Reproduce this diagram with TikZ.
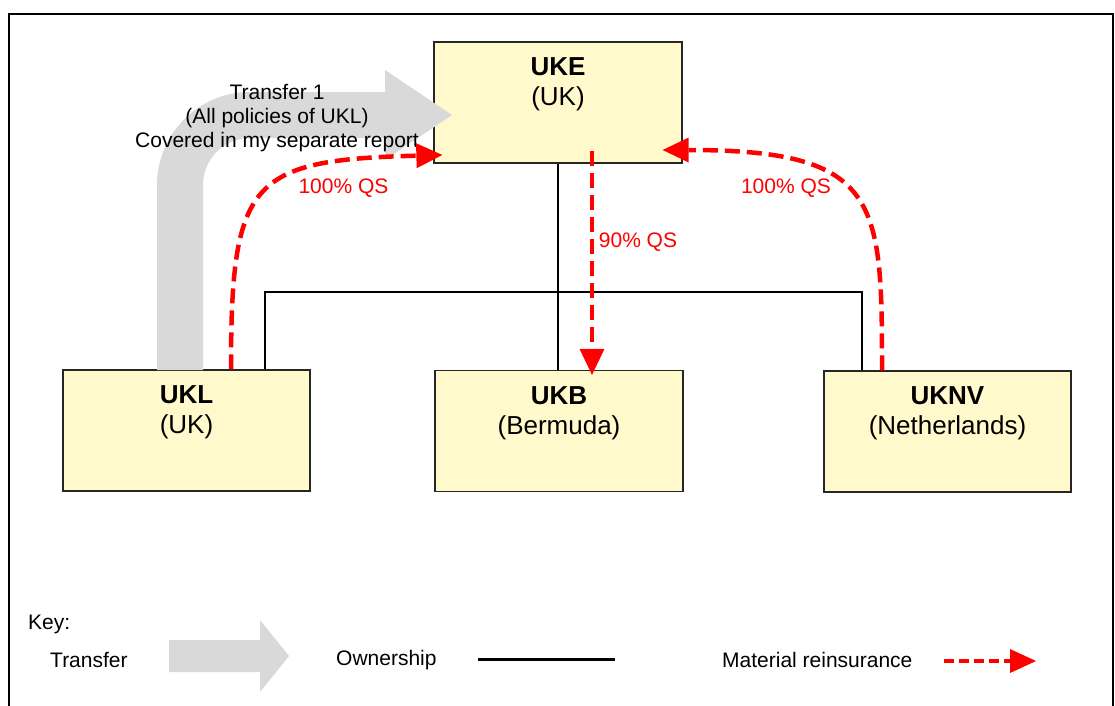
\documentclass[tikz,border=0pt]{standalone}
\usepackage{fontspec}
\setmainfont{Liberation Sans}
\usetikzlibrary{arrows.meta,calc}
\definecolor{boxfill}{RGB}{255,249,204}
\definecolor{transgray}{RGB}{217,217,217}
\definecolor{reinred}{RGB}{255,0,0}
\begin{document}
\begin{tikzpicture}[x=1pt,y=-1pt,
  entity/.style={draw=black!85, line width=1.3pt, fill=boxfill, minimum width=248pt, minimum height=121pt, inner sep=0pt},
  entitytext/.style={align=center, font=\fontsize{26}{30}\selectfont, inner sep=0pt},
  own/.style={draw=black, line width=2pt},
  reins/.style={draw=reinred, line width=4.5pt, dash pattern=on 15pt off 7pt, -{Triangle[length=26pt,width=25pt,line width=0pt]}},
  reinslabel/.style={text=reinred, font=\fontsize{21}{24}\selectfont, inner sep=0pt},
  plain/.style={font=\fontsize{21}{24}\selectfont, inner sep=0pt, align=center},
]
\useasboundingbox (0,0) rectangle (1115,705);
\fill[white] (0,0) rectangle (1115,705);
\draw[line width=2pt] (9,760) -- (9,14) -- (1113,14) -- (1113,760);

% entity boxes
\node[entity] (uke) at (558,102.5) {};
\node[entity, minimum width=247pt] (ukl) at (186.5,430.5) {};
\node[entity] (ukb) at (559,431) {};
\node[entity, minimum width=247pt] (uknv) at (947.5,431.5) {};

% ownership
\coordinate (barL) at (265,292);
\coordinate (barR) at (862,292);
\draw[own] (uke.south) -- (uke.south |- ukb.north);
\draw[own] (barL |- ukl.north) -- (barL) -- (barR) -- (barR |- uknv.north);

% transfer arrow
\fill[transgray] (157,370) -- (157,185) .. controls (157,133.7) and (198.7,92) .. (250,92)
  -- (385,92) -- (385,70) -- (452,115) -- (385,160) -- (385,138) -- (250,138)
  .. controls (224,138) and (203,159) .. (203,185) -- (203,370) -- cycle;

% box texts
\node[entitytext] (ukeT) at ([yshift=-43pt]uke.north) {\textbf{UKE}\\(UK)};
\node[entitytext] (uklT) at ([yshift=-43pt]ukl.north) {\textbf{UKL}\\(UK)};
\node[entitytext] (ukbT) at ([yshift=-43pt]ukb.north) {\textbf{UKB}\\(Bermuda)};
\node[entitytext] (uknvT) at ([yshift=-43pt]uknv.north) {\textbf{UKNV}\\(Netherlands)};

\node[plain] (trtext) at (277,118) {Transfer 1\\(All policies of UKL)\\Covered in my separate report};

% reinsurance
\draw[reins] ([xshift=44.5pt]ukl.north) .. controls (231,180) and (250,160) .. ([shift={(9pt,-52.5pt)}]uke.west);
\draw[reins] ([xshift=-65.5pt]uknv.north) .. controls (882,200) and (880,150) .. ([shift={(-20pt,-47.5pt)}]uke.east);
\draw[reins] ([shift={(34pt,13pt)}]uke.south) -- ([shift={(33pt,-5pt)}]ukb.north);

\node[reinslabel] (qsL) at (343.5,188) {100\% QS};
\node[reinslabel] (qsR) at (786,188) {100\% QS};
\node[reinslabel] (qs90) at (638,242) {90\% QS};

% key
\node[plain, anchor=west] (key) at (28,624) {Key:};
\node[plain, anchor=west] (keyT) at (50,660) {Transfer};
\fill[transgray] (169,640) -- (260,640) -- (260,620) -- (289,656) -- (260,692) -- (260,672) -- (169,672) -- cycle;
\node[plain, anchor=west] (keyO) at (336,660) {Ownership};
\coordinate (ownA) at (478,659);
\coordinate (ownB) at (615,659);
\draw[line width=3pt] (ownA) -- (ownB);
\node[plain, anchor=west] (keyM) at (722,660) {Material reinsurance};
\coordinate (reA) at (944,661);
\coordinate (reB) at (1036,661);
\draw[reins, dash pattern=on 10pt off 5pt, -{Triangle[length=26pt,width=24pt,line width=0pt]}] (reA) -- (reB);
\end{tikzpicture}
\end{document}
